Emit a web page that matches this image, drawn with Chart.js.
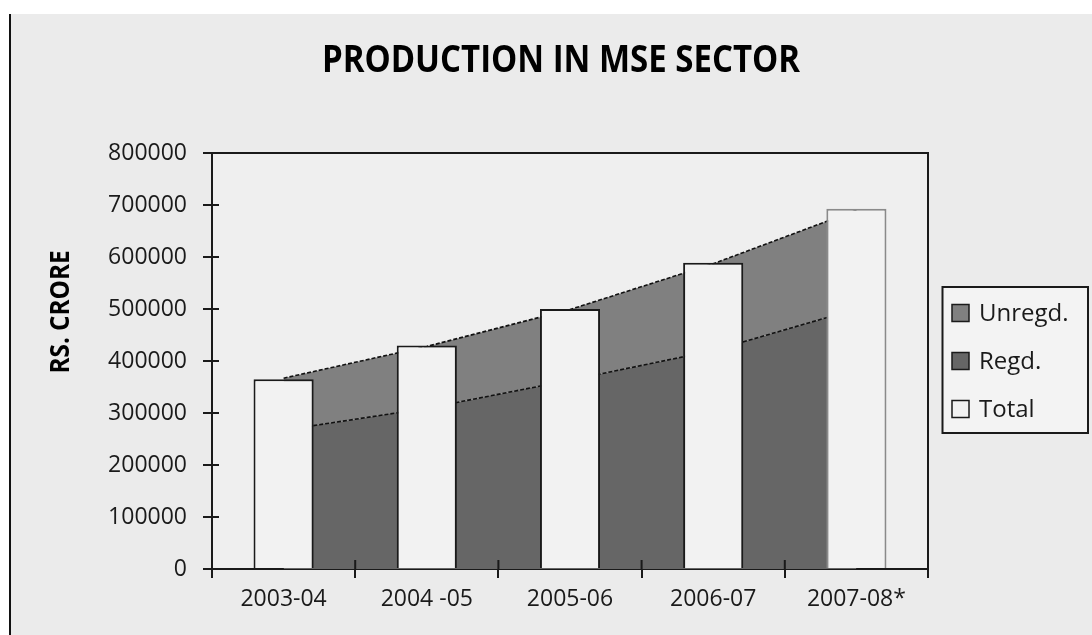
<!DOCTYPE html>
<html>
<head>
<meta charset="utf-8">
<title>Production in MSE Sector</title>
<script src="https://cdn.jsdelivr.net/npm/chart.js@4.4.1/dist/chart.umd.min.js"></script>
<style>
  html, body { margin: 0; padding: 0; background: #fff; }
  #frame { position: absolute; left: 9px; top: 14px; width: 1083px; height: 621px;
           background: #ebebeb; border-left: 2px solid #111; box-sizing: border-box; }
  #chart { position: absolute; left: 0; top: 0; }
</style>
</head>
<body>
<div id="frame"></div>
<canvas id="chart" width="1092" height="635"></canvas>
<script>
// === DATA (Rs. crore) ===
const years  = ["2003-04", "2004 -05", "2005-06", "2006-07", "2007-08*"];
const regd   = [267000, 309000, 363000, 420000, 500000];
const unregd = [100000, 119000, 136000, 167000, 190000];
const total  = [365000, 430000, 500000, 589000, 693000];
const yTicks = [0, 100000, 200000, 300000, 400000, 500000, 600000, 700000, 800000];

const INK = "#1a1a1a";
const FILL_UNREGD = "#808080";
const FILL_REGD = "#666666";
const FILL_TOTAL = "#f2f2f2";

// unregd area sits on top of the regd area
const unregdTop = regd.map((v, i) => v + unregd[i]);

// condensed bold text: squeeze the glyphs horizontally to a given width
function squeezedText(ctx, text, x, y, width) {
  const k = Math.min(1, width / ctx.measureText(text).width);
  ctx.save();
  ctx.translate(x, y);
  ctx.scale(k, 1);
  ctx.fillText(text, 0, 0);
  ctx.restore();
}

// === DECORATION: plot box, inner tick halves, titles, legend ===
const decor = {
  id: "decor",
  beforeDraw(chart) {
    const { ctx, chartArea: a } = chart;
    ctx.save();
    ctx.fillStyle = "#efefef";
    ctx.fillRect(a.left, a.top, a.right - a.left, a.bottom - a.top);
    ctx.restore();
  },
  afterDraw(chart) {
    const { ctx, chartArea: a, scales: { x, y } } = chart;
    ctx.save();

    // top + right edge of the plot box, and tick marks crossing into the plot
    ctx.strokeStyle = INK;
    ctx.lineWidth = 2;
    ctx.beginPath();
    ctx.moveTo(a.left - 9, a.top);
    ctx.lineTo(a.right, a.top);
    ctx.lineTo(a.right, a.bottom + 9);
    const step = x.getPixelForTick(1) - x.getPixelForTick(0);
    for (let i = 1; i < years.length; i++) {
      const px = x.getPixelForTick(i) - step / 2;
      ctx.moveTo(px, a.bottom);
      ctx.lineTo(px, a.bottom - 9);
    }
    y.ticks.forEach((t, i) => {
      const py = y.getPixelForTick(i);
      ctx.moveTo(a.left, py);
      ctx.lineTo(a.left + 7, py);
    });
    ctx.stroke();

    // chart title
    ctx.fillStyle = "#000";
    ctx.textAlign = "center";
    ctx.textBaseline = "alphabetic";
    ctx.font = "bold 37px 'Open Sans', sans-serif";
    squeezedText(ctx, "PRODUCTION IN MSE SECTOR", 561, 72, 478);

    // y axis title
    ctx.save();
    ctx.translate(69, 312);
    ctx.rotate(-Math.PI / 2);
    ctx.font = "bold 26px 'Open Sans', sans-serif";
    squeezedText(ctx, "RS. CRORE", 0, 0, 123);
    ctx.restore();

    // legend box
    const bx = 942.5, by = 287, bw = 145.5, bh = 146;
    ctx.fillStyle = "#f3f3f3";
    ctx.fillRect(bx, by, bw, bh);
    ctx.strokeStyle = INK;
    ctx.lineWidth = 2;
    ctx.strokeRect(bx, by, bw, bh);
    ctx.font = "24px 'Open Sans', sans-serif";
    ctx.textAlign = "left";
    ctx.textBaseline = "middle";
    chart.data.datasets.forEach((ds, i) => {
      const cy = 313 + i * 48;
      ctx.fillStyle = ds.swatch;
      ctx.fillRect(952, cy - 8.5, 17, 17);
      ctx.lineWidth = 1.5;
      ctx.strokeStyle = INK;
      ctx.strokeRect(952, cy - 8.5, 17, 17);
      ctx.fillStyle = "#1a1a1a";
      ctx.fillText(ds.label, 979, cy + 1);
    });
    ctx.restore();
  }
};

new Chart(document.getElementById("chart"), {
  type: "bar",
  data: {
    labels: years,
    datasets: [
      {
        type: "line", label: "Unregd.", data: unregdTop, swatch: FILL_UNREGD,
        backgroundColor: FILL_UNREGD, fill: 1, order: 2,
        borderColor: "#111", borderWidth: 1.6, borderDash: [4, 2],
        pointRadius: 0, tension: 0
      },
      {
        type: "line", label: "Regd.", data: regd, swatch: FILL_REGD,
        backgroundColor: FILL_REGD, fill: "origin", order: 1,
        borderColor: "#111", borderWidth: 1.6, borderDash: [4, 2],
        pointRadius: 0, tension: 0
      },
      {
        type: "bar", label: "Total", data: total, swatch: FILL_TOTAL,
        backgroundColor: FILL_TOTAL, order: 0,
        borderColor: [INK, INK, INK, INK, "#8a8a8a"], borderWidth: 2,
        barPercentage: 0.42, categoryPercentage: 1
      }
    ]
  },
  options: {
    responsive: false,
    animation: false,
    layout: { padding: { top: 153, right: 164, bottom: 0, left: 0 } },
    plugins: { legend: { display: false }, tooltip: { enabled: false } },
    scales: {
      x: {
        offset: true,
        grid: { offset: true, drawOnChartArea: false, tickLength: 9, color: INK, lineWidth: 2 },
        border: { color: INK, width: 2 },
        ticks: { padding: 8, color: "#1a1a1a", font: { family: "'Open Sans', sans-serif", size: 23 },
                 maxRotation: 0, autoSkip: false },
        afterFit(s) { s.height = 66; }
      },
      y: {
        min: 0, max: 800000,
        afterBuildTicks(s) { s.ticks = yTicks.map(v => ({ value: v })); },
        grid: { drawOnChartArea: false, tickLength: 9, color: INK, lineWidth: 2 },
        border: { color: INK, width: 2 },
        ticks: { padding: 16, color: "#1a1a1a", font: { family: "'Open Sans', sans-serif", size: 23 },
                 callback: v => String(v) },
        afterFit(s) { s.width = 212; }
      }
    }
  },
  plugins: [decor]
});
</script>
</body>
</html>
